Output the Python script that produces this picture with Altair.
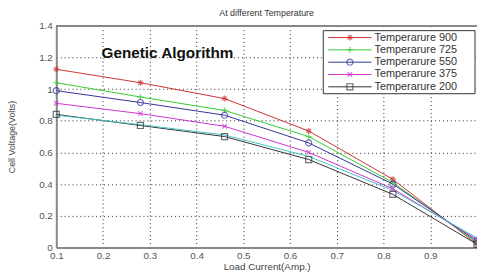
import altair as alt
import pandas as pd

# ---- data ----
load_current = [0.1, 0.28, 0.46, 0.64, 0.82, 1.0]
series_names = ["Temperarure 900", "Temperarure 725", "Temperarure 550",
                "Temperarure 375", "Temperarure 200"]
v_900 = [1.125, 1.04, 0.94, 0.735, 0.43, 0.02]
v_725 = [1.04, 0.95, 0.865, 0.70, 0.41, 0.03]
v_550 = [0.99, 0.915, 0.835, 0.66, 0.40, 0.04]
v_375 = [0.91, 0.845, 0.765, 0.60, 0.37, 0.05]
v_200 = [0.84, 0.77, 0.70, 0.555, 0.335, 0.02]
v_extra = [0.835, 0.775, 0.71, 0.575, 0.36, 0.06]   # unlabelled cyan trace
x_ticks = [0.1, 0.2, 0.3, 0.4, 0.5, 0.6, 0.7, 0.8, 0.9, 1.0]
y_ticks = [0, 0.2, 0.4, 0.6, 0.8, 1.0, 1.2, 1.4]

colors = ["#cc3333", "#33cc33", "#333399", "#cc33cc", "#333333"]
shapes = [
    "M-1,0L1,0M0,-1L0,1M-0.7,-0.7L0.7,0.7M-0.7,0.7L0.7,-0.7",  # *
    "M-1,0L1,0M0,-1L0,1",                                       # +
    "circle",
    "M-0.75,-0.75L0.75,0.75M-0.75,0.75L0.75,-0.75",             # x
    "square",
]

rows = []
for name, vals in zip(series_names, [v_900, v_725, v_550, v_375, v_200]):
    for xv, yv in zip(load_current, vals):
        rows.append({"series": name, "x": xv, "y": yv})
df = pd.DataFrame(rows)
df_extra = pd.DataFrame({"x": load_current, "y": v_extra})

W, H = 427, 225
FONT = "Liberation Sans"

xscale = alt.Scale(domain=[0.1, 1.0], nice=False, zero=False)
yscale = alt.Scale(domain=[0, 1.4], nice=False)
cscale = alt.Scale(domain=series_names, range=colors)
sscale = alt.Scale(domain=series_names, range=shapes)

xaxis = alt.Axis(values=x_ticks, tickCount=10, title="Load Current(Amp.)",
                 labelExpr="datum.value > 0.95 ? '' : '' + round(datum.value*10)/10",
                 grid=True, gridDash=[1, 3], gridColor="#000", gridOpacity=0.85,
                 ticks=False, domainColor="#888", domainWidth=2,
                 labelFont=FONT, labelFontSize=10, labelColor="#555",
                 labelPadding=3, labelFlush=False, labelOverlap=False,
                 titleFont=FONT, titleFontSize=10, titleColor="#444",
                 titleFontWeight="normal", titlePadding=1)
yaxis = alt.Axis(values=y_ticks, tickCount=8, title="Cell Voltage(Volts)",
                 labelExpr="'' + round(datum.value*10)/10",
                 grid=True, gridDash=[1, 3], gridColor="#000", gridOpacity=0.85,
                 ticks=False, domainColor="#888", domainWidth=2,
                 labelFont=FONT, labelFontSize=10, labelColor="#555",
                 labelPadding=4, labelFlush=False, labelOverlap=False,
                 titleFont=FONT, titleFontSize=9, titleColor="#444",
                 titleFontWeight="normal", titlePadding=22)

X = alt.X("x:Q", scale=xscale, axis=xaxis)
Y = alt.Y("y:Q", scale=yscale, axis=yaxis)

base = alt.Chart(df)
lines = base.mark_line(strokeWidth=1).encode(
    x=X, y=Y,
    color=alt.Color("series:N", scale=cscale, legend=None),
    detail="series:N",
)
extra = alt.Chart(df_extra).mark_line(strokeWidth=1, color="#44c4c4").encode(
    x=X, y=Y)
points = base.mark_point(filled=False, size=38, strokeWidth=1.2).encode(
    x=X, y=Y,
    color=alt.Color("series:N", scale=cscale, legend=None),
    shape=alt.Shape("series:N", scale=sscale, legend=None),
)

top_rule = alt.Chart(df_extra).mark_rule(color="#888", strokeWidth=1.5).encode(
    x=alt.value(0), x2=alt.value(W), y=alt.value(0))

ga_text = alt.Chart(pd.DataFrame({"t": ["Genetic Algorithm"]})).mark_text(
    font=FONT, fontSize=15.5, fontWeight="bold", align="left",
    baseline="middle", color="#111").encode(
    text="t:N", x=alt.value(46), y=alt.value(28))

# ---- legend built from the series arrays ----
leg = pd.DataFrame({"series": series_names,
                    "py": [12 + 12.5 * i for i in range(len(series_names))]})
PY = alt.Y("py:Q", scale=None, axis=None)
leg_box = alt.Chart(leg.head(1)).mark_rect(
    fill="white", stroke="#333", strokeWidth=1).encode(
    x=alt.value(271), x2=alt.value(425), y=alt.value(5), y2=alt.value(69))
leg_lines = alt.Chart(leg).mark_rule(strokeWidth=1).encode(
    x=alt.value(276), x2=alt.value(320), y=PY,
    color=alt.Color("series:N", scale=cscale, legend=None))
leg_pts = alt.Chart(leg).mark_point(filled=False, size=38, strokeWidth=1.2).encode(
    x=alt.value(298), y=PY,
    color=alt.Color("series:N", scale=cscale, legend=None),
    shape=alt.Shape("series:N", scale=sscale, legend=None))
leg_text = alt.Chart(leg).mark_text(
    font=FONT, fontSize=11, align="left", baseline="middle", color="#333").encode(
    x=alt.value(323), y=PY, text="series:N")

chart = alt.layer(top_rule, lines, extra, points, ga_text,
                  leg_box, leg_lines, leg_pts, leg_text).properties(
    width=W, height=H,
    title=alt.TitleParams("At different Temperature", font=FONT, fontSize=9,
                          fontWeight="normal", color="#333", offset=3),
    autosize=alt.AutoSizeParams(type="none"),
    padding={"left": 49, "top": 16, "right": 0, "bottom": 26},
).configure_view(strokeWidth=0).configure(background="white")

chart.save("out.html", embed_options={"renderer": "svg", "actions": False})
